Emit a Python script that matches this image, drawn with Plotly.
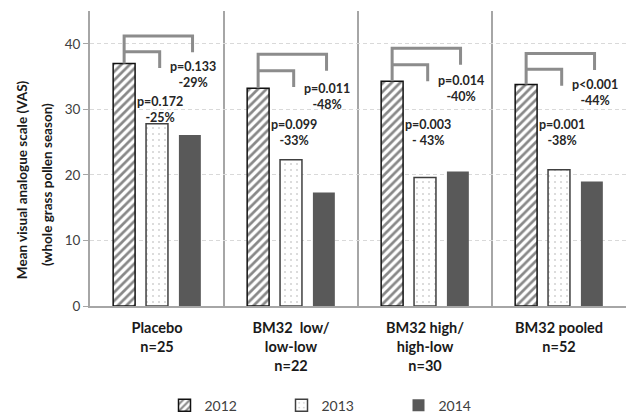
import plotly.graph_objects as go

# ---- data -------------------------------------------------------------
groups = [
    "Placebo<br>n=25",
    "BM32\u00a0 low/<br>low-low<br>n=22",
    "BM32 high/<br>high-low<br>n=30",
    "BM32 pooled<br>n=52",
]
years = ["2012", "2013", "2014"]
vas_2012 = [37.0, 33.2, 34.3, 33.8]
vas_2013 = [27.8, 22.3, 19.6, 20.8]
vas_2014 = [26.1, 17.3, 20.5, 19.0]

# 2012 vs 2013 comparison
p_2013 = ["p=0.172", "p=0.099", "p=0.003", "p=0.001"]
chg_2013 = ["-25%", "-33%", "- 43%", "-38%"]
# 2012 vs 2014 comparison
p_2014 = ["p=0.133", "p=0.011", "p=0.014", "p<0.001"]
chg_2014 = ["-29%", "-48%", "-40%", "-44%"]

y_title = ["Mean visual analogue scale (VAS)", "(whole grass pollen season)"]

# ---- layout helpers ---------------------------------------------------
FONT = "Lato"
TXT = "#262626"
GRAY = "#8c8c8c"
BARGAP = 0.264
BARGROUPGAP = 0.333
slot = (1 - BARGAP) / 3            # width of each year's slot in a group
offsets = [-slot, 0.0, slot]       # bar centres relative to group centre

# bracket levels (data units) and label heights
outer_y = [41.2, 38.4, 39.3, 38.5]
inner_y = [38.8, 35.9, 36.8, 36.1]
drop = 2.5
outer_lbl_y = [35.3, 32.0, 33.2, 32.6]
inner_lbl_y = [30.0, 26.4, 26.4, 26.4]

x = list(range(len(groups)))

fig = go.Figure()
fig.add_bar(
    x=x, y=vas_2012, name=years[0],
    marker=dict(color="white", line=dict(color="#111111", width=1.5),
                pattern=dict(shape="/", fgcolor="#111111", bgcolor="white",
                             size=6, solidity=0.45)),
)
fig.add_bar(
    x=x, y=vas_2013, name=years[1],
    marker=dict(color="white", line=dict(color="#404040", width=1.5),
                pattern=dict(shape=".", fgcolor="#606060", bgcolor="white",
                             size=6, solidity=0.06)),
)
fig.add_bar(
    x=x, y=vas_2014, name=years[2],
    marker=dict(color="#595959", line=dict(color="#595959", width=0)),
)

# significance brackets and labels
for i in x:
    x0 = i + offsets[0]
    x1 = i + offsets[1] + 0.02
    x2 = i + offsets[2] + 0.02
    fig.add_shape(
        type="path", xref="x", yref="y",
        path=f"M{x0},{vas_2012[i]} L{x0},{outer_y[i]} L{x2},{outer_y[i]} L{x2},{outer_y[i] - drop}",
        line=dict(color=GRAY, width=3),
    )
    fig.add_shape(
        type="path", xref="x", yref="y",
        path=f"M{x0},{inner_y[i]} L{x1},{inner_y[i]} L{x1},{inner_y[i] - drop}",
        line=dict(color=GRAY, width=3),
    )
    fig.add_annotation(
        x=i + 0.27, y=outer_lbl_y[i], xref="x", yref="y",
        text=f"<b>{p_2014[i]}<br>{chg_2014[i]}</b>", showarrow=False,
        font=dict(family=FONT, size=12.5, color=TXT), align="center",
    )
    fig.add_annotation(
        x=i + 0.025, y=inner_lbl_y[i], xref="x", yref="y",
        text=f"<b>{p_2013[i]}<br>{chg_2013[i]}</b>", showarrow=False,
        font=dict(family=FONT, size=12.5, color=TXT), align="center",
    )

# y-axis title, two rotated lines
for line, xp, yp in zip(y_title, [-0.128, -0.080], [0.428, 0.411]):
    fig.add_annotation(
        xref="paper", yref="paper", x=xp, y=yp,
        xanchor="center", yanchor="middle",
        text=f"<b>{line}</b>", textangle=-90, showarrow=False,
        font=dict(family=FONT, size=13.5, color="#1a1a1a"),
    )

fig.update_layout(
    width=626, height=414,
    margin=dict(l=90, r=0, t=11, b=108, autoexpand=False),
    paper_bgcolor="white", plot_bgcolor="white",
    barmode="group", bargap=BARGAP, bargroupgap=BARGROUPGAP,
    font=dict(family=FONT, size=13, color="#404040"),
    showlegend=True,
    legend=dict(orientation="h", x=0.139, y=0.02, xref="paper",
                yref="container", xanchor="left", yanchor="middle",
                entrywidth=72, entrywidthmode="pixels",
                font=dict(family=FONT, size=14, color="#404040"),
                itemwidth=30),
)
fig.update_xaxes(
    range=[-0.5, 3.5], tickvals=x, ticktext=[f"<b>{g}</b>" for g in groups],
    ticks="outside", ticklen=8, tickcolor="rgba(0,0,0,0)",
    tickfont=dict(family=FONT, size=14.5, color="#1a1a1a"),
    showline=True, linecolor="#a6a6a6", linewidth=2,
    showgrid=False, zeroline=False, automargin=False,
    minor=dict(tick0=0.5, dtick=1, showgrid=True, gridcolor="#a6a6a6",
               gridwidth=2, ticks=""),
)
fig.update_yaxes(
    range=[0, 45], tickvals=[0, 10, 20, 30, 40],
    ticks="outside", ticklen=5, tickcolor="#a6a6a6",
    tickfont=dict(family=FONT, size=13.5, color="#404040"),
    showline=True, linecolor="#a6a6a6", linewidth=2,
    showgrid=True, gridcolor="#d9d9d9", griddash="4px,3px", gridwidth=1,
    zeroline=False, automargin=False,
)

fig.write_html("out.html")
